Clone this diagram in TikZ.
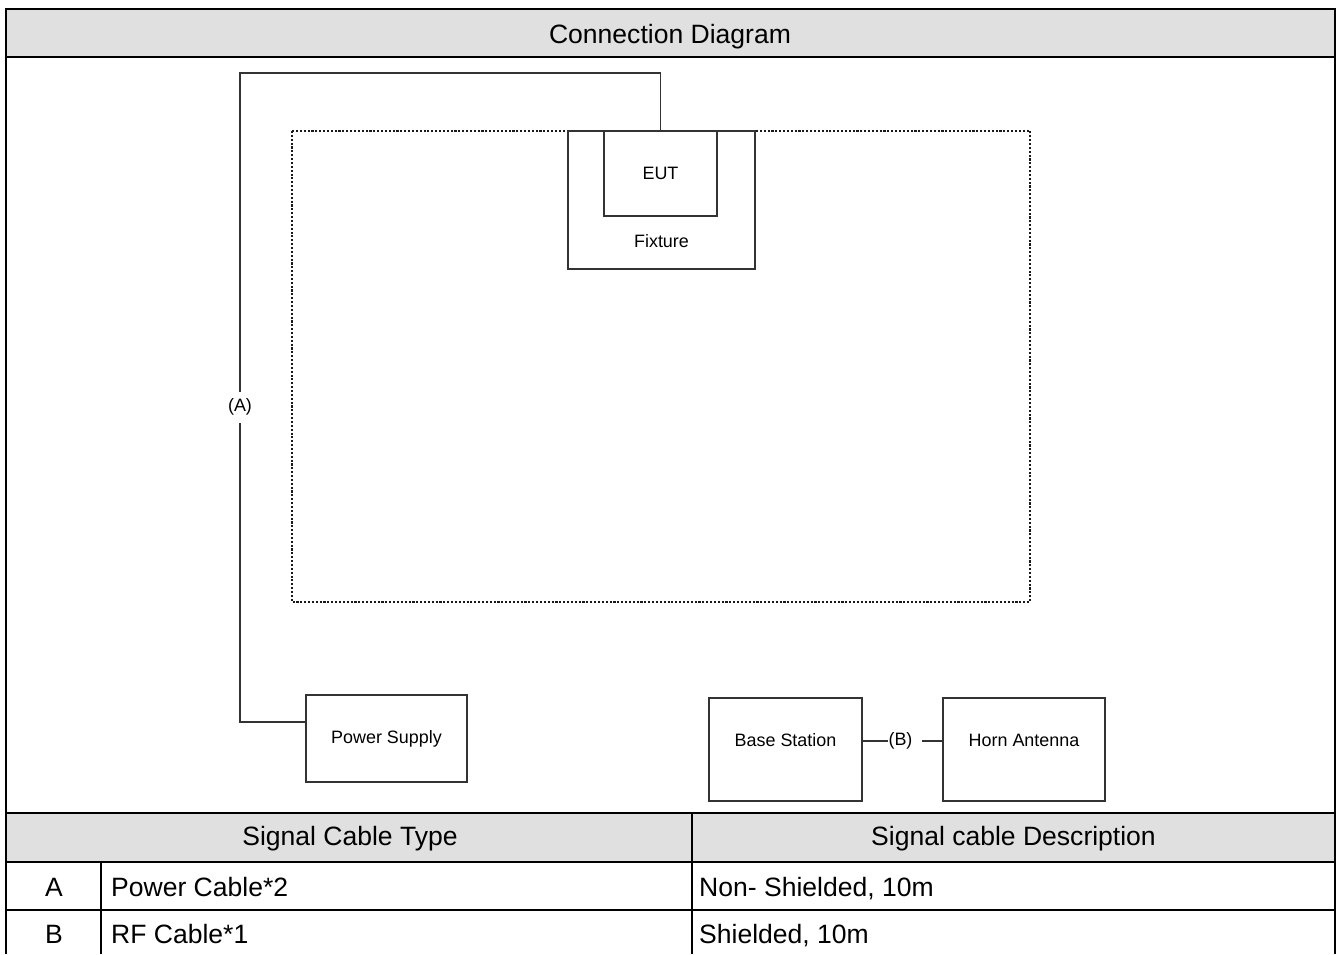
\documentclass[tikz,border=0pt]{standalone}
\usepackage{fontspec}
\setmainfont{Liberation Sans}
\definecolor{hdrgray}{HTML}{E0E0E0}
\definecolor{linegray}{HTML}{333333}
\begin{document}
\begin{tikzpicture}[x=0.02cm,y=-0.02cm,
  bigtxt/.style={font=\fontsize{15.1}{17}\selectfont},
  smalltxt/.style={font=\fontsize{10.2}{12}\selectfont},
  box/.style={draw=linegray,line width=0.75pt,fill=white,smalltxt,inner sep=0pt},
  raised/.style={text height=7pt,text depth=11pt},
  cable/.style={draw=linegray,line width=0.75pt},
  rule/.style={line width=1.15pt}]
  \useasboundingbox (0,0) rectangle (1341,954);

  % table frame
  \fill[hdrgray] (6,9) rectangle (1335,57);
  \fill[hdrgray] (6,813) rectangle (1335,862);
  \draw[rule] (6,954) -- (6,9) -- (1335,9) -- (1335,954);
  \draw[rule] (6,57) -- (1335,57);
  \draw[rule] (6,813) -- (1335,813);
  \draw[rule] (6,862) -- (1335,862);
  \draw[rule] (6,910) -- (1335,910);
  \draw[rule] (692,813) -- (692,954);
  \draw[rule] (101,862) -- (101,954);

  \node[bigtxt,anchor=base] (title) at (670,43) {Connection Diagram};

  % test area
  \draw[color=black!90,line width=1.15pt,dash pattern=on 1.2pt off 1pt]
  (292,131) rectangle (1030,602);

  \node[box,minimum width=3.74cm,minimum height=2.76cm] (fix) at (661.5,200) {};
  \node[smalltxt,anchor=base] (fixlbl) at (661.5,247) {Fixture};
  \node[box,minimum width=2.26cm,minimum height=1.7cm] (eut) at (660.5,173.5) {EUT};

  \node[box,minimum width=3.22cm,minimum height=1.74cm] (ps) at (386.5,738.5) {Power Supply};
  \node[box,raised,minimum width=3.06cm,minimum height=2.06cm] (bs) at (785.5,749.5) {Base Station};
  \node[box,raised,minimum width=3.24cm,minimum height=2.06cm] (ha) at (1024,749.5) {Horn Antenna};

  % cable A
  \coordinate (cornerA1) at (eut.north |- 0,73);
  \coordinate (cornerA2) at (240,73);
  \coordinate (cornerA3) at (240,722);
  \coordinate (psin) at (ps.west |- cornerA3);
  \draw[cable] (eut.north) -- (cornerA1) -- (cornerA2) --
  node[pos=0.515,fill=white,smalltxt,inner xsep=1pt,inner ysep=4pt] (lblA) {(A)}
  (cornerA3) -- (psin);

  % cable B
  \coordinate (bsout) at ([yshift=0.17cm]bs.east);
  \coordinate (hain) at ([yshift=0.17cm]ha.west);
  \draw[cable] (bsout) -- node[pos=0.53,fill=white,smalltxt,inner xsep=0.3pt] (lblB) {(B)\kern5pt} (hain);

  % cable list
  \node[bigtxt,anchor=base] (hdrtype) at (350,845) {Signal Cable Type};
  \node[bigtxt,anchor=base] (hdrdesc) at (1013.5,845) {Signal cable Description};
  \node[bigtxt,anchor=base] (idA) at (54,896) {A};
  \node[bigtxt,anchor=base west] (typeA) at (105,896) {Power Cable*2};
  \node[bigtxt,anchor=base west] (descA) at (693,896) {Non- Shielded, 10m};
  \node[bigtxt,anchor=base] (idB) at (54,943) {B};
  \node[bigtxt,anchor=base west] (typeB) at (105,943) {RF Cable*1};
  \node[bigtxt,anchor=base west] (descB) at (693,943) {Shielded, 10m};
\end{tikzpicture}
\end{document}
